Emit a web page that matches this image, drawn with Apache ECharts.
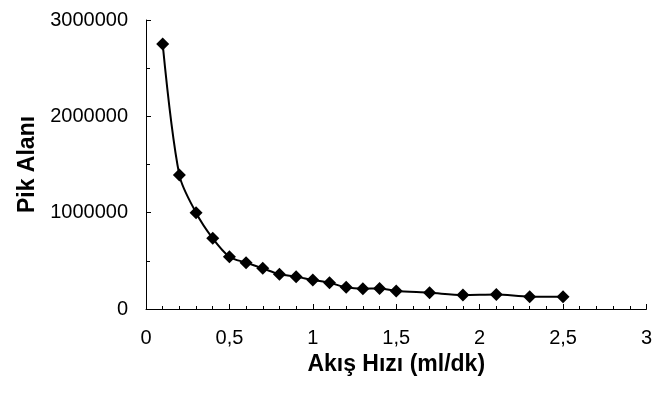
<!DOCTYPE html>
<style>
body {margin: 0;}
#div_echart {height: 400px; width: 655px;}
</style>
<script src='https://cdn.jsdelivr.net/npm/echarts@6/dist/echarts.min.js'></script>
<div id='div_echart'></div>
<script>
let flowRates = [0.1, 0.2, 0.3, 0.4, 0.5, 0.6, 0.7, 0.8, 0.9, 1.0, 1.1, 1.2, 1.3, 1.4, 1.5, 1.7, 1.9, 2.1, 2.3, 2.5]
let peakAreas = [2750000, 1390000, 1000000, 734000, 543000, 481000, 422000, 360000, 336000, 301000, 273000, 225000, 211000, 213000, 187000, 169000, 145000, 150000, 128000, 128000]
let xTitle = 'Akış Hızı (ml/dk)'
let yTitle = 'Pik Alanı'

let font = 'Liberation Sans, Arial, sans-serif'
let echart = echarts.init(document.getElementById('div_echart'))
let points = flowRates.map((x, i) => [x, peakAreas[i]])
let axisLine = {show: true, onZero: false, lineStyle: {color: '#000', width: 1}}
echart.setOption({
	animation: false,
	grid: {left: 146, right: 5, top: 20, bottom: 91},
	xAxis: {
		type: 'value', min: 0, max: 3, interval: 0.5,
		name: xTitle, nameLocation: 'middle', nameGap: 35,
		nameTextStyle: {fontFamily: font, fontSize: 23, fontWeight: 'bold', color: '#000'},
		axisLine,
		axisTick: {show: true, inside: true, length: 5, lineStyle: {color: '#000'}},
		minorTick: {show: true, splitNumber: 5, length: 3, lineStyle: {color: '#000'}},
		splitLine: {show: false},
		axisLabel: {fontFamily: font, fontSize: 20, color: '#000', margin: 19,
			formatter: v => String(v).replace('.', ',')}
	},
	yAxis: {
		type: 'value', min: 0, max: 3000000, interval: 1000000,
		name: yTitle, nameLocation: 'middle', nameGap: 107, nameRotate: 90,
		nameTextStyle: {fontFamily: font, fontSize: 23, fontWeight: 'bold', color: '#000'},
		axisLine,
		axisTick: {show: true, inside: true, length: 5, lineStyle: {color: '#000'}},
		minorTick: {show: true, splitNumber: 2, length: 4, lineStyle: {color: '#000'}},
		splitLine: {show: false},
		axisLabel: {fontFamily: font, fontSize: 20, color: '#000', margin: 18,
			formatter: v => String(v)}
	},
	series: [{
		type: 'line', data: points, smooth: 0.3,
		symbol: 'diamond', symbolSize: 13,
		itemStyle: {color: '#000'},
		lineStyle: {color: '#000', width: 2}
	}]
})
</script>
